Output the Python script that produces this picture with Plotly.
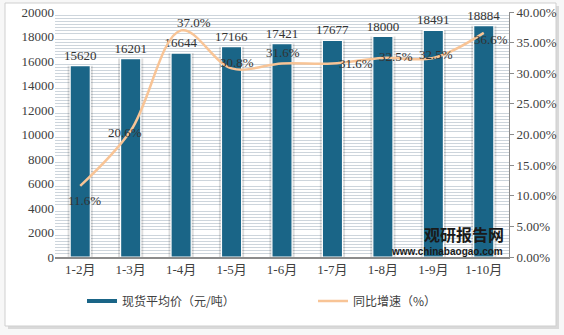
import plotly.graph_objects as go

categories = ["1-2月", "1-3月", "1-4月", "1-5月", "1-6月", "1-7月", "1-8月", "1-9月", "1-10月"]
price = [15620, 16201, 16644, 17166, 17421, 17677, 18000, 18491, 18884]
growth = [11.6, 20.6, 37.0, 30.8, 31.6, 31.6, 32.5, 32.5, 36.6]
price_name = "现货平均价（元/吨）"
growth_name = "同比增速（%）"

growth_frac = [g / 100 for g in growth]

# label offsets (px) for growth labels
lab_dx = [4, -6, 13, 5, 1, 24, 13, 3, 7]
lab_dy = [-15, -2, 8, 6, 11, 0, 1, 3, -7]

FONT = "Liberation Serif, Noto Sans CJK SC"
BLUE = "#1a6587"
ORANGE = "#f8c496"

L, R, T, B = 55, 55, 12, 78
W, H = 564, 335
pw, ph = W - L - R, H - T - B

def px(x):
    return (x - L) / pw

def py(y):
    return (H - B - y) / ph

fig = go.Figure()

# bar shadow
fig.add_trace(go.Bar(x=categories, y=price, width=0.5, marker=dict(color="rgba(0,0,0,0.13)", line=dict(width=0)),
                     showlegend=False, hoverinfo="skip"))
fig.add_trace(go.Bar(x=categories, y=price, width=0.4, name=price_name,
                     marker=dict(color=BLUE, line=dict(color="white", width=1.2)),
                     text=[str(v) for v in price], textposition="outside", constraintext="none",
                     textfont=dict(family=FONT, size=13, color="#333333"),
                     cliponaxis=False, showlegend=False))
fig.add_trace(go.Scatter(x=categories, y=growth_frac, yaxis="y2", mode="lines",
                         line=dict(color=ORANGE, width=2.5, shape="spline", smoothing=1.0),
                         showlegend=False, name=growth_name))
# legend entries
fig.add_trace(go.Scatter(x=[None], y=[None], mode="lines", name=price_name,
                         line=dict(color=BLUE, width=4), legend="legend"))
fig.add_trace(go.Scatter(x=[None], y=[None], mode="lines", name=growth_name,
                         line=dict(color=ORANGE, width=2.5), legend="legend2"))

annotations = []
for c, g, gf, dx, dy in zip(categories, growth, growth_frac, lab_dx, lab_dy):
    annotations.append(dict(x=c, y=gf, xref="x", yref="y2", text=f"{g:.1f}%", showarrow=False,
                            xshift=dx, yshift=dy, font=dict(family=FONT, size=13, color="#333333")))

# watermark
annotations.append(dict(x=px(506), y=py(234), xref="paper", yref="paper", text="<b>观研报告网</b>", showarrow=False,
                        font=dict(family="Noto Sans CJK SC", size=16, color="#1a1a1a"), xanchor="right", yanchor="middle"))
annotations.append(dict(x=px(505), y=py(251), xref="paper", yref="paper", text="<b>www.chinabaogao.com</b>", showarrow=False,
                        font=dict(family="Liberation Sans", size=10, color="#1a1a1a"), xanchor="right", yanchor="middle"))

shapes = [
    dict(type="rect", xref="paper", yref="paper", x0=px(8), x1=px(559), y0=py(329), y1=py(6),
         fillcolor="#d9d9d9", line=dict(width=0), layer="below"),
    dict(type="rect", xref="paper", yref="paper", x0=px(5), x1=px(556), y0=py(326), y1=py(3),
         fillcolor="white", line=dict(color="#cfcfcf", width=1), layer="below"),
]

legend_common = dict(orientation="h", yanchor="middle", y=py(301),
                     font=dict(family="Noto Sans CJK SC", size=12, color="#404040"),
                     bgcolor="rgba(0,0,0,0)", xanchor="left")

fig.update_layout(
    width=W, height=H,
    margin=dict(l=L, r=R, t=T, b=B, autoexpand=False),
    paper_bgcolor="#f7f7f7",
    plot_bgcolor="#eef2f5",
    barmode="overlay",
    font=dict(family=FONT, size=13, color="#404040"),
    shapes=shapes,
    annotations=annotations,
    xaxis=dict(showgrid=False, showline=True, linecolor="#8c8c8c", linewidth=1.5, ticks="",
               tickfont=dict(family=FONT, size=13, color="#404040"), range=[-0.5, 8.5]),
    yaxis=dict(range=[0, 20000], dtick=2000, tickformat="d", showgrid=False, zeroline=False,
               minor=dict(dtick=250, showgrid=True, gridcolor="#cdd5dc", gridwidth=1),
               tickfont=dict(family=FONT, size=13, color="#404040"), showline=False),
    yaxis2=dict(range=[0, 0.4], dtick=0.05, tickformat=".2%", overlaying="y", side="right",
                showgrid=False, zeroline=False, showline=True, linecolor="#8c8c8c", linewidth=1,
                ticks="outside", ticklen=4, tickcolor="#8c8c8c",
                tickfont=dict(family=FONT, size=13, color="#404040")),
    legend=dict(x=px(82), **legend_common),
    legend2=dict(x=px(313), **legend_common),
)

fig.write_html("out.html")
